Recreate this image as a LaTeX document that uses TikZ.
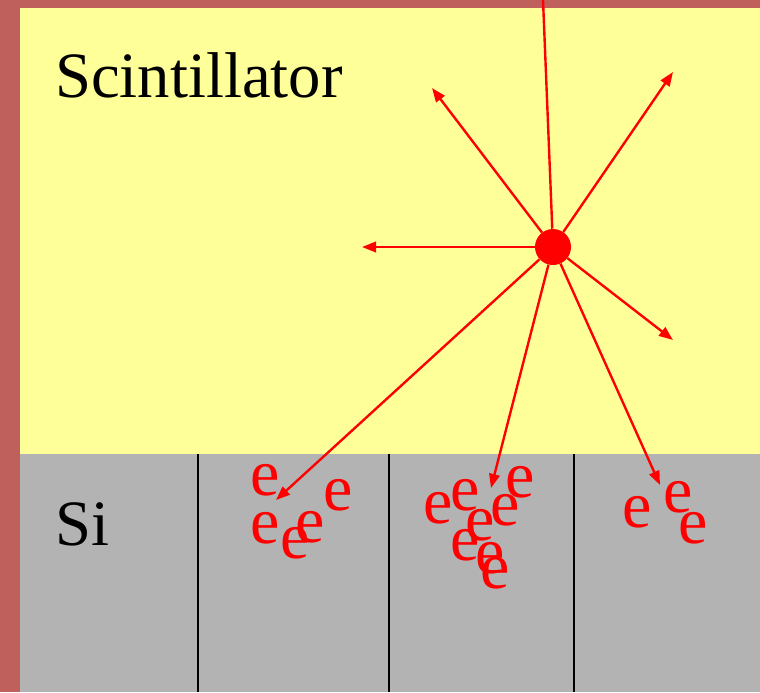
\documentclass[tikz,border=0pt]{standalone}
\usepackage{fontspec}
\setmainfont{Liberation Serif}
\usetikzlibrary{arrows.meta}
\definecolor{frame}{HTML}{C0605C}
\definecolor{scint}{HTML}{FFFF99}
\definecolor{silicon}{HTML}{B3B3B3}
\tikzset{ray/.style={draw=red,line width=1.7pt,-{Triangle[length=10pt,width=7.5pt]}},elec/.style={text=red,inner sep=0pt,font=\fontsize{47}{47}\selectfont},lbl/.style={anchor=base west,inner sep=0pt,font=\fontsize{46}{46}\selectfont}}

\begin{document}
\begin{tikzpicture}[x=0.025cm,y=-0.025cm]
\useasboundingbox(0,0)rectangle(760,692);
\fill[frame](0,0)rectangle(760,692);
\fill[scint](20,8)rectangle(760,454);
\fill[silicon](20,454)rectangle(760,692);
\foreach\x in{198,389,574}\draw[line width=1.3pt](\x,454)--(\x,692);
\node[lbl](scintlbl)at(55,97){Scintillator};
\node[lbl](silbl)at(55,545){Si};
% electrons
\foreach\n/\p in{1/{265,480},2/{338,495},3/{265,528},4/{295,543},5/{310,527},6/{438,508},7/{465,495},8/{520,482},9/{505,510},10/{480,525},11/{465,545},12/{490,558},13/{495,573},14/{637,512},15/{678,497},16/{693,528}}\node[elec](e\n)at(\p){e};
% flash and photons
\node[circle,fill=red,inner sep=0pt,minimum size=0.9cm](flash)at(553,247){};
\coordinate(top)at(543,0);
\draw[red,line width=1.7pt](top)--(flash);
\coordinate(p1)at(432,88);
\coordinate(p2)at(673,72);
\coordinate(p3)at(362,247);
\coordinate(p4)at(673,340);
\coordinate(p5)at(276,500);
\coordinate(p6)at(491,488);
\coordinate(p7)at(660,485);
\foreach\a in{p1,p2,p3,p4,p5,p6,p7}\draw[ray](flash)--(\a);
\end{tikzpicture}
\end{document}
